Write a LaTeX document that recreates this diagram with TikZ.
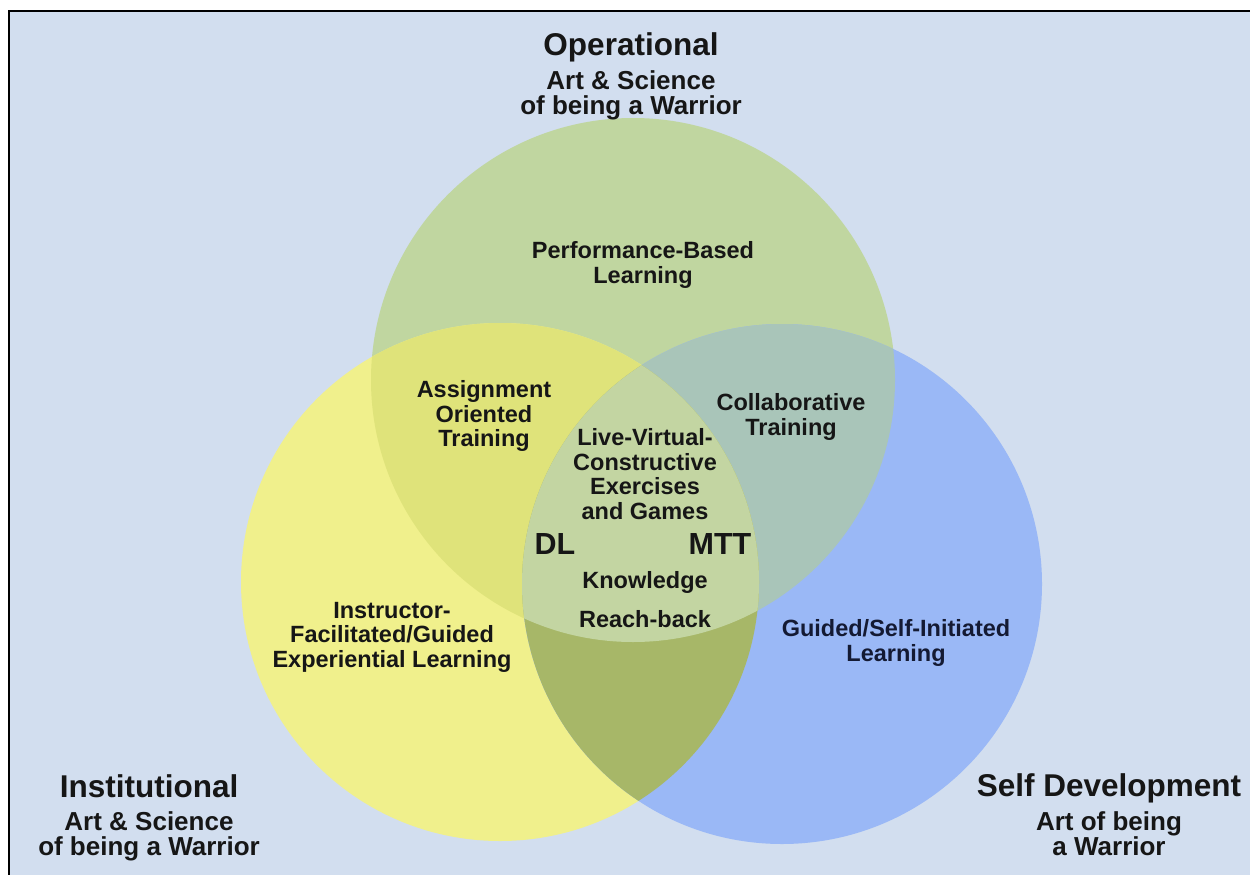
\documentclass[tikz,border=0pt]{standalone}
\usepackage{fontspec}
\setmainfont{Liberation Sans}
\definecolor{bgc}{HTML}{D2DEEF}
\definecolor{gc}{HTML}{C0D6A0}
\definecolor{yc}{HTML}{F0F08C}
\definecolor{bc}{HTML}{9AB8F6}
\definecolor{ygc}{HTML}{DFE37A}
\definecolor{gbc}{HTML}{A9C5B9}
\definecolor{ybc}{HTML}{A7B768}
\definecolor{cc}{HTML}{C3D5A2}
\definecolor{txt}{HTML}{161616}
\definecolor{navytxt}{HTML}{141A33}
\begin{document}
\begin{tikzpicture}[x=1pt,y=-1pt,
  lbl/.style={font=\bfseries\fontsize{23.5}{24.5}\selectfont, align=center, text=txt, inner sep=0pt},
  big/.style={font=\bfseries\fontsize{30.5}{32}\selectfont, text=txt, inner sep=0pt},
  ttl/.style={font=\bfseries\fontsize{31.5}{33}\selectfont, text=txt, inner sep=0pt},
  sub/.style={font=\bfseries\fontsize{26}{25}\selectfont, align=center, text=txt, inner sep=0pt}]
\useasboundingbox (0,0) rectangle (1250,875);
\fill[white] (0,0) rectangle (1250,875);
\fill[bgc] (9,11) rectangle (1250,875);
\draw[line width=2.5pt, black] (9,875) -- (9,11) -- (1250,11);
% circles
\fill[gc] (633,380) circle[radius=262];
\fill[yc] (500,582) circle[radius=259];
\fill[bc] (782,584) circle[radius=260];
\begin{scope}
  \clip (633,380) circle[radius=262];
  \fill[gbc] (782,584) circle[radius=260];
\end{scope}
\begin{scope}
  \clip (500,582) circle[radius=259];
  \fill[ygc] (633,380) circle[radius=262];
  \fill[ybc] (782,584) circle[radius=260];
  \clip (633,380) circle[radius=262];
  \fill[cc] (782,584) circle[radius=260];
\end{scope}
% titles
\node[ttl] (op) at (631,47) {Operational};
\node[sub] (opsub) at (631,95) {Art \& Science\\of being a Warrior};
\node[ttl] (inst) at (149,786) {Institutional};
\node[sub] (instsub) at (149,836) {Art \& Science\\of being a Warrior};
\node[ttl] (self) at (1109,788) {Self Development};
\node[sub] (selfsub) at (1109,834) {Art of being\\a Warrior};
% inner labels
\node[lbl] (pbl) at (643,265) {Performance-Based\\Learning};
\node[lbl] (aot) at (484,416) {Assignment\\Oriented\\Training};
\node[lbl] (ct) at (791,417) {Collaborative\\Training};
\node[lbl] (lvc) at (645,474) {Live-Virtual-\\Constructive\\Exercises\\and Games};
\node[big] (dl) at (555,544) {DL};
\node[big] (mtt) at (720,544) {MTT};
\node[lbl] (kn) at (645,582) {Knowledge};
\node[lbl] (rb) at (645,619) {Reach-back};
\node[lbl] (ifg) at (392,637) {Instructor-\\Facilitated/Guided\\Experiential Learning};
\node[lbl, text=navytxt] (gsi) at (896,643) {Guided/Self-Initiated\\Learning};
\end{tikzpicture}
\end{document}
